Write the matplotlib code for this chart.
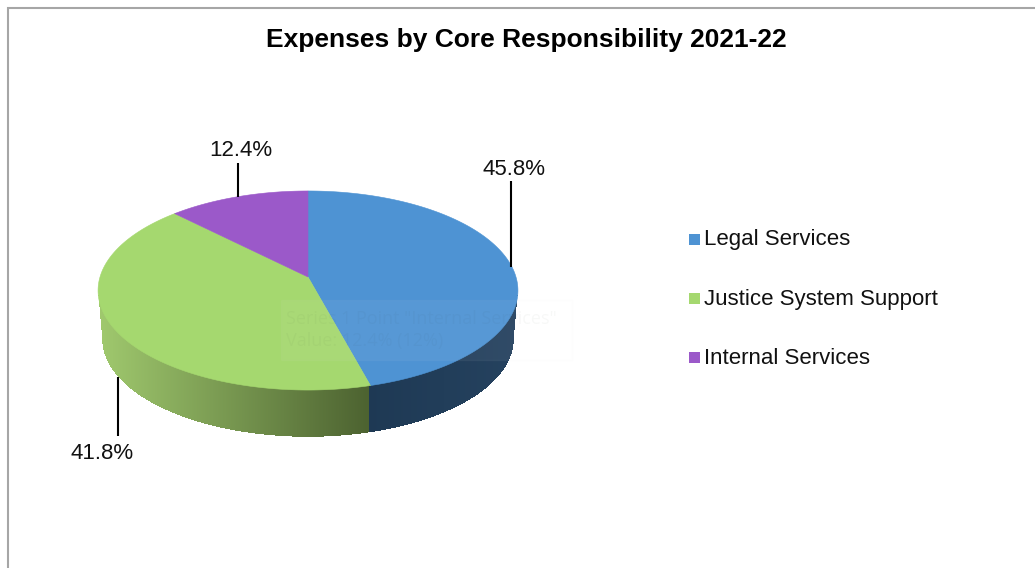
import matplotlib
matplotlib.use('Agg')
import matplotlib.pyplot as plt
import numpy as np
from matplotlib.colors import to_rgb
from matplotlib.patches import Polygon, Rectangle

title = 'Expenses by Core Responsibility 2021-22'
categories = ['Legal Services', 'Justice System Support', 'Internal Services']
values = [45.8, 41.8, 12.4]
colors = ['#4e93d3', '#a5d86f', '#9b59c9']
tooltip = 'Series 1 Point "Internal Services"\nValue: 12.4% (12%)'

plt.rcParams['font.family'] = ['Liberation Sans', 'DejaVu Sans']

fig = plt.figure(figsize=(10.35, 5.68), dpi=100, facecolor='white')
ax = fig.add_axes([0, 0, 1, 1])
ax.set_xlim(0, 1035)
ax.set_ylim(568, 0)
ax.axis('off')

# pie geometry in pixels, with a perspective tilt
cx, cy = 308, 277
a, b, k = 208, 97.7, 0.1357
depth, base_scale = 49, 0.98


def project(theta, scale=1.0, dy=0.0):
    u, v = np.sin(theta), np.cos(theta)
    w = 1 + k * v
    return cx + scale * a * u / w, cy - scale * b * v / w + dy


edges = np.radians(np.concatenate(([0], np.cumsum(values))) * 3.6)

# side wall drawn as 1px columns so the shading runs straight across x
tangent = np.arccos(-k)
ts = np.linspace(tangent, 2 * np.pi - tangent, 800)
top_x, top_y = project(ts)
base_x, base_y = project(ts, base_scale, depth)
# outline runs from the right silhouette to the left one, x falling
lower_x = np.r_[top_x[-1], base_x[::-1], top_x[0]]
lower_y = np.r_[top_y[-1], base_y[::-1], top_y[0]]
split = project(edges[1], base_scale, depth)[0]
left_col, mid_col = np.array(to_rgb('#a0c96e')), np.array(to_rgb('#4c6230'))
blue_l, blue_r = np.array(to_rgb('#1e3954')), np.array(to_rgb('#25425f'))
for col_x in np.arange(np.floor(top_x.min()), np.ceil(top_x.max())):
    xm = col_x + 0.5
    if xm < top_x.min() or xm > top_x.max():
        continue
    up = np.interp(xm, top_x[::-1], top_y[::-1])
    down = np.interp(xm, lower_x, lower_y)
    if xm < split:
        f = (xm - top_x.min()) / (split - top_x.min())
        col = left_col + (mid_col - left_col) * f
    else:
        f = (xm - split) / (top_x.max() - split)
        col = blue_l + (blue_r - blue_l) * f
    ax.fill_between([col_x, col_x + 1], [up - 2, up - 2], [down, down], color=col, linewidth=0)

# top face
for i in range(3):
    ts = np.linspace(edges[i], edges[i + 1], 200)
    x, y = project(ts)
    ax.add_patch(Polygon(np.column_stack((np.r_[cx, x], np.r_[cy, y])),
                         facecolor=colors[i], edgecolor=colors[i], linewidth=0.4))

# value labels on leader lines
mids = 0.5 * (edges[:-1] + edges[1:])
x, y = project(mids[0])
ax.plot([x, x], [y + 3, 181], color='black', lw=1.5, solid_capstyle='butt')
ax.text(x + 3, 169.5, f'{values[0]}%', ha='center', va='center', fontsize=16, color='#111111')

x, y = project(mids[1], base_scale, depth)
ax.plot([x, x], [y, 436], color='black', lw=1.5, solid_capstyle='butt')
ax.text(x - 16, 453.5, f'{values[1]}%', ha='center', va='center', fontsize=16, color='#111111')

x, y = project(mids[2])
ax.plot([x, x], [y, 163], color='black', lw=1.5, solid_capstyle='butt')
ax.text(x + 3, 150.5, f'{values[2]}%', ha='center', va='center', fontsize=16, color='#111111')

# leftover hover box, almost transparent
ax.add_patch(Rectangle((281, 300), 291, 60, facecolor='white', alpha=0.05,
                       edgecolor='#d8d8d8', linewidth=1))
ax.text(286, 330, tooltip, ha='left', va='center', fontsize=13, color='#304030',
        alpha=0.035, family='Open Sans', linespacing=1.35)

# legend
for name, col, ly in zip(categories, colors, [239, 298, 357]):
    ax.add_patch(Rectangle((688.5, ly - 5.5), 11, 11, facecolor=col, edgecolor='none'))
    ax.text(704, ly + 1, name, ha='left', va='center', fontsize=16, color='#111111')

ax.text(526, 40.5, title, ha='center', va='center', fontsize=19, fontweight='bold', color='black')

# chart frame, top and left edges
ax.plot([8, 8, 1035], [568, 7.5, 7.5], color='#a6a6a6', lw=1.5, solid_joinstyle='miter')

fig.savefig('out.png', dpi=100, facecolor='white')
